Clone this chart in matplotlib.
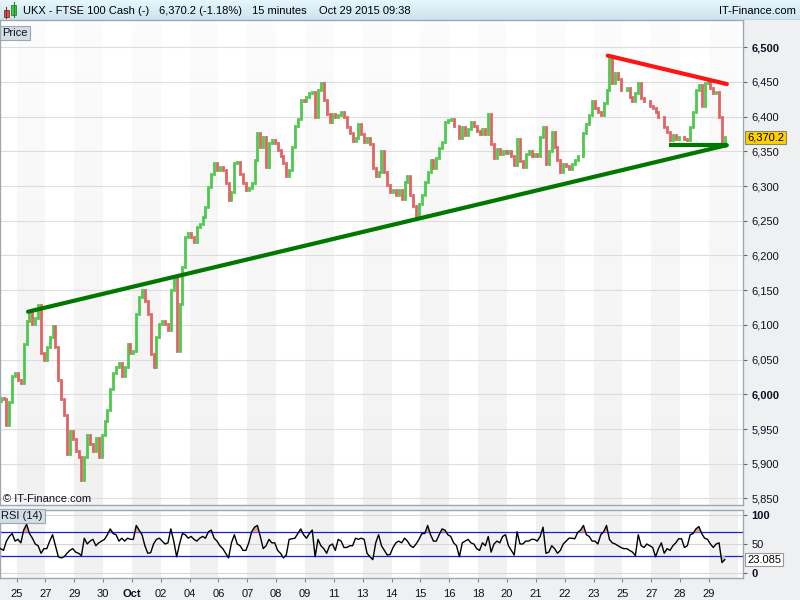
import numpy as np
import matplotlib.pyplot as plt
from matplotlib.patches import Rectangle

plt.rcParams['font.family'] = ['Liberation Sans', 'DejaVu Sans']

# 15 minute closes, one row per session (about 10 bars a session)
first_open = 5990
day_closes = [
    [5995, 5993, 5956, 5989, 6026, 6031],  # end of the session before the 25th
    [6021, 6017, 6073, 6106, 6120, 6101, 6110, 6129, 6059, 6050],
    [6068, 6082, 6099, 6068, 6021, 5993, 5970, 5914, 5947, 5935],
    [5919, 5909, 5877, 5909, 5942, 5928, 5919, 5937, 5909, 5942],
    [5961, 5977, 6007, 6031, 6040, 6045, 6026, 6040, 6073, 6059],
    [6063, 6116, 6140, 6150, 6135, 6116, 6058, 6039, 6083, 6102],
    [6106, 6102, 6092, 6150, 6171, 6063, 6130, 6184, 6227, 6232],
    [6227, 6220, 6241, 6246, 6256, 6270, 6299, 6318, 6333, 6323],
    [6328, 6323, 6304, 6280, 6292, 6333, 6335, 6318, 6304, 6294],
    [6297, 6304, 6338, 6376, 6357, 6371, 6328, 6362, 6367, 6362],
    [6352, 6343, 6333, 6314, 6323, 6357, 6386, 6396, 6424, 6422],
    [6429, 6434, 6436, 6400, 6439, 6449, 6424, 6404, 6392, 6404],
    [6400, 6402, 6407, 6400, 6385, 6377, 6365, 6370, 6390, 6375],
    [6363, 6370, 6360, 6326, 6314, 6321, 6351, 6321, 6302, 6292],
    [6294, 6287, 6294, 6282, 6306, 6314, 6287, 6272, 6255, 6274],
    [6287, 6306, 6321, 6338, 6326, 6341, 6355, 6363, 6392, 6395],
    [6397, 6387, 6387, 6370, 6385, 6373, 6382, 6392, 6387, 6380],
    [6375, 6382, 6375, 6404, 6360, 6341, 6353, 6346, 6351, 6348],
    [6351, 6343, 6331, 6368, 6336, 6328, 6346, 6351, 6343, 6346],
    [6343, 6371, 6385, 6332, 6351, 6378, 6356, 6337, 6320, 6332],
    [6329, 6324, 6332, 6337, 6344, 6344, 6376, 6390, 6402, 6422],
    [6412, 6407, 6402, 6420, 6439, 6483, 6449, 6463, 6454, 6439],
    [6439, 6441, 6429, 6422, 6434, 6449, 6427, 6422, 6422, 6415],
    [6412, 6407, 6400, 6400, 6385, 6378, 6366, 6373, 6368, 6371],
    [6371, 6368, 6366, 6385, 6407, 6439, 6446, 6415, 6449, 6451],
    [6441, 6434, 6436, 6400, 6358, 6370.2],
]
# RSI (14) at the same bars
day_rsi = [
    [42, 39, 55, 63, 68, 55],
    [58, 52, 74, 84, 68, 60, 50, 47, 34, 42],
    [42, 55, 66, 47, 28, 26, 28, 34, 39, 42],
    [36, 34, 30, 60, 50, 55, 58, 47, 52, 55],
    [58, 66, 76, 68, 66, 55, 60, 55, 60, 58],
    [58, 82, 74, 66, 47, 34, 35, 50, 58, 60],
    [55, 50, 52, 76, 55, 28, 50, 68, 66, 60],
    [63, 58, 55, 60, 63, 60, 71, 74, 60, 55],
    [47, 42, 34, 26, 52, 66, 50, 47, 39, 39],
    [52, 71, 79, 82, 63, 42, 47, 58, 52, 52],
    [39, 34, 26, 31, 58, 59, 60, 68, 76, 66],
    [60, 68, 74, 28, 58, 47, 42, 34, 47, 50],
    [39, 58, 55, 44, 44, 47, 47, 60, 58, 60],
    [58, 34, 28, 23, 52, 66, 47, 39, 31, 32],
    [44, 52, 55, 52, 60, 55, 47, 44, 50, 58],
    [68, 68, 82, 66, 55, 55, 66, 76, 74, 66],
    [63, 52, 47, 28, 52, 55, 58, 52, 50, 42],
    [39, 52, 47, 63, 36, 50, 55, 52, 63, 66],
    [47, 39, 31, 71, 50, 50, 55, 55, 58, 58],
    [55, 63, 79, 34, 36, 47, 42, 34, 39, 50],
    [55, 60, 60, 59, 70, 74, 82, 66, 63, 55],
    [55, 50, 66, 71, 82, 58, 52, 50, 47, 44],
    [42, 42, 39, 36, 30, 66, 47, 44, 50, 47],
    [44, 28, 42, 52, 34, 42, 39, 47, 52, 59],
    [59, 44, 47, 66, 68, 76, 80, 68, 60, 58],
    [50, 44, 50, 52, 18, 23.085],
]
day_labels = ['25', '27', '29', '30', 'Oct', '02', '04', '06', '07', '08', '09', '11',
              '13', '14', '15', '16', '18', '20', '21', '22', '23', '25', '27', '28', '29']
last_price = 6370.2
change_pct = -1.18
rsi_last = 23.085

# hand drawn trend lines (session index, price)
support_x, support_y = [0.40, 24.62], [6119, 6359]
resist_x, resist_y = [20.49, 24.62], [6488, 6447]
floor_x, floor_y = [22.62, 24.62], [6359, 6359]

GREEN = '#4ec94e'
RED = '#e06464'
W, H = 800, 600
XMIN, XMAX = -0.572, 25.18

fig = plt.figure(figsize=(8, 6), dpi=100, facecolor='#eef0f2')


def px_axes(x0, y0, x1, y1):
    return fig.add_axes([x0 / W, 1 - y1 / H, (x1 - x0) / W, (y1 - y0) / H])


# bar positions: 10 slots per session, the first session only partly shown
xs, closes, rsi = [], [], []
for n, (row, rrow) in enumerate(zip(day_closes, day_rsi), start=-1):
    k0 = 10 - len(row) if n < 0 else 0
    for k, (c, r) in enumerate(zip(row, rrow)):
        xs.append(n + 0.05 + 0.1 * (k0 + k))
        closes.append(c)
        rsi.append(r)
xs = np.array(xs)
closes = np.array(closes, dtype=float)
rsi = np.array(rsi, dtype=float)
opens = np.r_[first_open, closes[:-1]]
up = closes >= opens


def stripes(a):
    for n in range(-1, 26):
        if n % 2 == 0:
            a.axvspan(n, n + 1, color='#f1f1f1', lw=0, zorder=0)


def frame(a):
    for s in a.spines.values():
        s.set_color('#9ea8b0')
        s.set_linewidth(1)
    a.set_facecolor('white')


# ---- price panel ----
ax = px_axes(0, 20, 743, 505)
ymin, ymax = 5840.5, 6539.3
frame(ax)
stripes(ax)
fade = np.ones((100, 1, 4))
fade[:, 0, 3] = np.linspace(0.8, 0.0, 100)
ax.imshow(fade, extent=[XMIN, XMAX, ymin, ymax], aspect='auto', zorder=0.5)
price_ticks = list(range(5850, 6501, 50))
for t in price_ticks:
    ax.axhline(t, color='#dddddd', lw=0.8, zorder=1)

ax.vlines(xs[up], opens[up], closes[up], color=GREEN, lw=2.0, capstyle='projecting', zorder=2)
ax.vlines(xs[~up], opens[~up], closes[~up], color=RED, lw=2.0, capstyle='projecting', zorder=2)

ax.plot(support_x, support_y, color='#007800', lw=3, solid_capstyle='round', zorder=3)
ax.plot(floor_x, floor_y, color='#007800', lw=3, solid_capstyle='butt', zorder=3)
ax.plot(resist_x, resist_y, color='#ff1414', lw=3, solid_capstyle='round', zorder=3)

ax.set_xlim(XMIN, XMAX)
ax.set_ylim(ymin, ymax)
ax.set_xticks([])
ax.yaxis.tick_right()
ax.set_yticks(price_ticks)
ax.set_yticklabels([f'{t:,}' for t in price_ticks])
for lbl, t in zip(ax.get_yticklabels(), price_ticks):
    if t % 500 == 0:
        lbl.set_fontweight('bold')
ax.tick_params(axis='y', direction='out', length=3, width=0.8, color='#666666',
               pad=3, labelsize=8, labelcolor='#101020')

ax.text(1.0055, last_price, f'{last_price:,.1f}', transform=ax.get_yaxis_transform(),
        ha='left', va='center', fontsize=8, color='black', zorder=10, clip_on=False,
        bbox=dict(boxstyle='square,pad=0.15', fc='#ffd000', ec='#8a8a6a', lw=0.8))

ax.text(2 / 743, 1 - 8 / 485, 'Price', transform=ax.transAxes, ha='left', va='top',
        fontsize=8, color='#101020', zorder=10,
        bbox=dict(boxstyle='square,pad=0.2', fc='#d3dee4', ec='#9aa8b2', lw=0.8))
ax.text(3 / 743, 1 / 485, '\u00a9 IT-Finance.com', transform=ax.transAxes, ha='left',
        va='bottom', fontsize=8, color='#101020', zorder=10)

# ---- RSI panel ----
ar = px_axes(0, 510, 743, 578)
frame(ar)
stripes(ar)
for t in (0, 50, 100):
    ar.axhline(t, color='#d6d6d6', lw=0.8, zorder=1)
for t in (30, 70):
    ar.axhline(t, color='#1c1ccc', lw=0.9, zorder=2)
ar.fill_between(xs, rsi, 70, where=rsi > 70, interpolate=True, color='#d8a6a6', lw=0, zorder=2)
ar.fill_between(xs, rsi, 30, where=rsi < 30, interpolate=True, color='#a6d8a6', lw=0, zorder=2)
ar.plot(xs, rsi, color='black', lw=1.0, zorder=3)
ar.set_xlim(XMIN, XMAX)
ar.set_ylim(-8.6, 108.6)
ar.yaxis.tick_right()
ar.set_yticks([0, 50, 100])
ar.set_yticklabels(['0', '50', '100'])
for lbl in ar.get_yticklabels():
    if lbl.get_text() in ('0', '100'):
        lbl.set_fontweight('bold')
ar.tick_params(axis='y', direction='out', length=3, width=0.8, color='#666666',
               pad=3, labelsize=8, labelcolor='#101020')
ar.set_xticks(range(len(day_labels)))
ar.set_xticklabels(day_labels)
for lbl in ar.get_xticklabels():
    if lbl.get_text() == 'Oct':
        lbl.set_fontweight('bold')
ar.tick_params(axis='x', direction='out', length=3, width=0.8, color='#888888',
               pad=5, labelsize=8, labelcolor='#101020')
ar.text(1.0055, rsi_last, f'{rsi_last:.3f}', transform=ar.get_yaxis_transform(),
        ha='left', va='center', fontsize=8, color='black', zorder=10, clip_on=False,
        bbox=dict(boxstyle='square,pad=0.15', fc='white', ec='#9a9a9a', lw=0.8))
ar.text(1 / 743, 1 - 1 / 68, 'RSI (14)', transform=ar.transAxes, ha='left', va='top',
        fontsize=8, color='#101020', zorder=10,
        bbox=dict(boxstyle='square,pad=0.2', fc='#d3dee4', ec='#9aa8b2', lw=0.8))

# ---- title bar ----
tb = px_axes(0, 0, 800, 20)
tb.set_xlim(0, 800)
tb.set_ylim(20, 0)
tb.axis('off')
top_c = np.array([0.90, 0.97, 0.99])
bot_c = np.array([0.80, 0.89, 0.93])
bar_img = top_c + (bot_c - top_c) * np.linspace(0, 1, 20)[:, None]
tb.imshow(bar_img[:, None, :], extent=[0, 800, 20, 0], aspect='auto')
tb.axhline(19.5, color='#9aa6ae', lw=1)
tb.plot([6, 6], [7, 18], color='#803030', lw=0.8)
tb.add_patch(Rectangle((3.5, 10), 5, 6.5, fc='#e05050', ec='#803030', lw=0.6))
tb.plot([13.5, 13.5], [2, 17], color='#2f7f2f', lw=0.8)
tb.add_patch(Rectangle((11, 4.5), 5, 10.5, fc='#40c840', ec='#2f7f2f', lw=0.6))
tb.text(23, 10.5, 'UKX - FTSE 100 Cash (-)', va='center', fontsize=8.0, color='black')
tb.text(159, 10.5, f'{last_price:,.1f} ({change_pct:.2f}%)', va='center', fontsize=8.0,
        color='black')
tb.text(252, 10.5, '15 minutes', va='center', fontsize=8.0, color='black')
tb.text(319, 10.5, 'Oct 29 2015 09:38', va='center', fontsize=8.0, color='black')
tb.text(796, 10.5, 'IT-Finance.com', va='center', ha='right', fontsize=8.0, color='black')

fig.savefig('out.png', dpi=100, facecolor=fig.get_facecolor())
